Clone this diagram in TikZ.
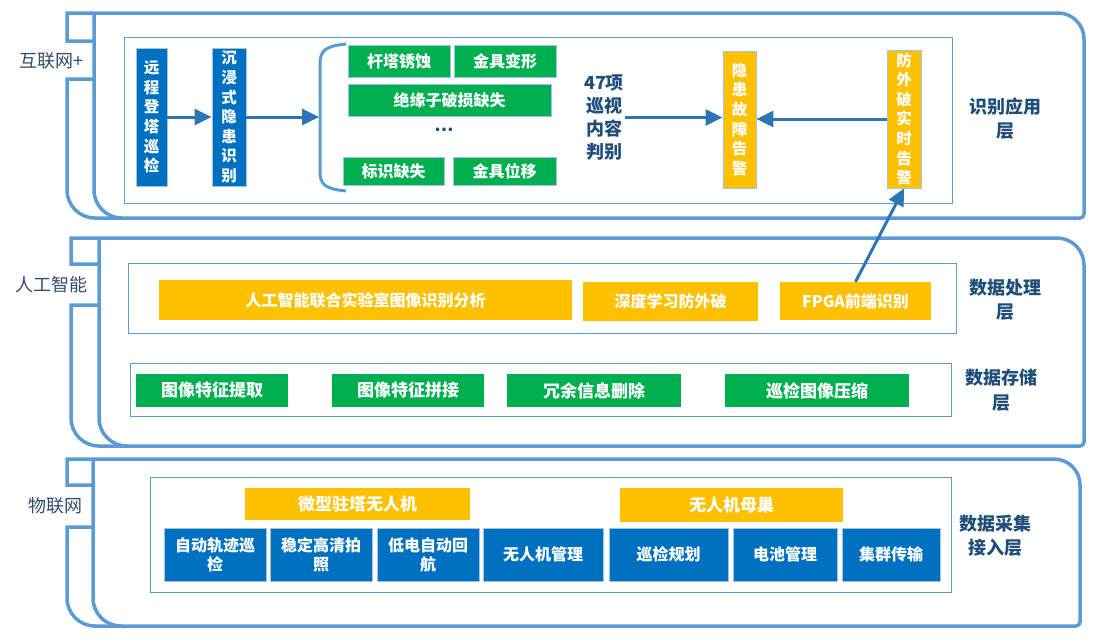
\documentclass[tikz,border=0pt]{standalone}
\usepackage{fontspec}
\setmainfont{Noto Sans CJK SC}
\usetikzlibrary{arrows.meta}
\definecolor{pline}{HTML}{5B9BD5}
\definecolor{bblue}{HTML}{0070C0}
\definecolor{bgreen}{HTML}{00B050}
\definecolor{byellow}{HTML}{FFC000}
\definecolor{arr}{HTML}{2E75B6}
\definecolor{lbl}{HTML}{1F4E79}
\definecolor{lbltwo}{HTML}{2F4B6E}
\definecolor{edgec}{HTML}{9DC3E6}
\newcommand\bx[7]{%
  \node[#6, minimum width={#4-#2}, minimum height={#5-#3}] (#1) at ({(#2+#4)/2},{(#3+#5)/2}) {#7};}
% x0, x1, ytop, ya, yb, ybot, x2, R
\newcommand\panelshape[8]{%
  \draw[panel] (#2,#4) -- (#1,#4) -- (#1,#3) -- ({#7-#8},#3)
    .. controls ({#7-0.448*#8},#3) and (#7,{#3+0.448*#8}) .. (#7,{#3+#8})
    -- (#7,{#6-4}) .. controls (#7,{#6-1.8}) and ({#7-1.8},#6) .. ({#7-4},#6)
    -- ({#1+28},#6) .. controls ({#1+12.5},#6) and (#1,{#6-12.5}) .. (#1,{#6-28})
    -- (#1,#5) -- (#2,#5);
  \draw[panel] (#2,#3) -- (#2,{#6-28}) .. controls (#2,{#6-12.5}) and ({#2+12.5},#6) .. ({#2+28},#6);}
\tikzset{
  panel/.style={draw=pline, line width=3.5pt},
  innerbox/.style={draw=pline, line width=1pt},
  box/.style={inner sep=0pt, text=white, font=\bfseries\fontsize{16}{19}\selectfont, align=center},
  bluebox/.style={box, fill=bblue, draw=edgec, line width=0.8pt},
  greenbox/.style={box, fill=bgreen, draw=edgec, line width=0.8pt},
  greenplain/.style={box, fill=bgreen, font=\bfseries\fontsize{17}{20}\selectfont},
  yellowbox/.style={box, fill=byellow, draw=edgec, line width=0.8pt},
  yellowplain/.style={box, fill=byellow},
  vert/.style={font=\bfseries\fontsize{15.5}{19.6}\selectfont},
  arrowline/.style={draw=arr, line width=3pt, -{Triangle[length=17pt,width=16pt]}},
  layerlabel/.style={text=lbl, font=\bfseries\fontsize{18}{24.5}\selectfont, align=center, inner sep=1pt},
  sidelabel/.style={text=lbltwo, font=\fontsize{18}{20}\selectfont, inner sep=0pt},
}
\begin{document}
\begin{tikzpicture}[x=1pt, y=-1pt]
\useasboundingbox (0,0) rectangle (1103,641);
% panels
\panelshape{67}{94}{13}{41}{79}{218}{1084}{26}
\panelshape{71}{99}{238}{264}{305}{446}{1084}{27}
\panelshape{67}{93}{459}{485}{527}{626}{1080}{26}
% inner frames
\draw[innerbox] (124,37) rectangle (952,203);
\draw[innerbox] (128,263) rectangle (956,333);
\draw[innerbox] (130,363) rectangle (951,416);
\draw[innerbox] (150,477) rectangle (951,592);
% side labels
\node[sidelabel] (s1) at (51.5,61) {互联网+};
\node[sidelabel] (s2) at (51.5,285) {人工智能};
\node[sidelabel] (s3) at (55.5,506) {物联网};
% layer labels
\node[layerlabel] (l1) at (1005,118.5) {识别应用\\层};
\node[layerlabel] (l2) at (1005,299.5) {数据处理\\层};
\node[layerlabel] (l3) at (1001,390) {数据存储\\层};
\node[layerlabel] (l4) at (995,535.5) {数据采集\\接入层};
% panel 1
\bx{yc}{136}{48}{167}{186}{bluebox,vert}{远\\程\\登\\塔\\巡\\检}
\bx{cj}{212}{48}{246}{186}{bluebox,vert}{沉\\浸\\式\\隐\\患\\识\\别}
\bx{gt}{348}{45}{450}{77}{greenbox}{杆塔锈蚀}
\bx{jb}{454}{45}{556}{77}{greenbox}{金具变形}
\bx{jy}{348}{84}{551}{116}{greenbox}{绝缘子破损缺失}
\node[text=lbl, font=\bfseries\fontsize{17}{17}\selectfont, inner sep=0pt] (dots) at (444,130) {…};
\bx{bs}{343}{157}{444}{185}{greenbox}{标识缺失}
\bx{jw}{453}{157}{556}{185}{greenbox}{金具位移}
\node[layerlabel, font=\bfseries\fontsize{18}{23}\selectfont] (t47) at (604,117.5) {47项\\巡视\\内容\\判别};
\bx{yh}{723}{51}{756}{188}{yellowbox,vert}{隐\\患\\故\\障\\告\\警}
\bx{fw}{887}{50}{921}{188}{yellowbox,vert}{防\\外\\破\\实\\时\\告\\警}
\draw[pline, line width=3pt] (346,44) .. controls (326,46) and (320,50) .. (320,64)
  -- (320,172) .. controls (320,185) and (326,189) .. (346,191);
\coordinate (brk) at (319,117);
% panel 2
\bx{ai}{159}{280}{572}{320}{yellowplain}{人工智能联合实验室图像识别分析}
\bx{sd}{583}{282}{758}{321}{yellowplain}{深度学习防外破}
\bx{fp}{780}{282}{931}{320}{yellowplain}{FPGA前端识别}
\bx{g1}{136}{374}{288}{407}{greenplain}{图像特征提取}
\bx{g2}{332}{374}{484}{407}{greenplain}{图像特征拼接}
\bx{g3}{507}{374}{681}{407}{greenplain}{冗余信息删除}
\bx{g4}{725}{374}{909}{407}{greenplain}{巡检图像压缩}
% panel 3
\bx{wx}{245}{488}{470}{520}{yellowplain,font=\bfseries\fontsize{17}{20}\selectfont}{微型驻塔无人机}
\bx{mc}{620}{488}{843}{522}{yellowplain,font=\bfseries\fontsize{17}{20}\selectfont}{无人机母巢}
\bx{b1}{164}{528}{266}{581}{bluebox}{自动轨迹巡\\检}
\bx{b2}{270}{528}{372}{581}{bluebox}{稳定高清拍\\照}
\bx{b3}{377}{528}{479}{581}{bluebox}{低电自动回\\航}
\bx{b4}{483}{528}{603}{581}{bluebox}{无人机管理}
\bx{b5}{609}{528}{728}{581}{bluebox}{巡检规划}
\bx{b6}{733}{528}{837}{581}{bluebox}{电池管理}
\bx{b7}{842}{528}{940}{581}{bluebox}{集群传输}
% arrows
\draw[arrowline] (yc.east) -- (cj.west);
\draw[arrowline] (cj.east) -- (brk);
\draw[arrowline] (t47.east) -- (t47.east -| yh.west);
\draw[arrowline] (fw.west) -- (fw.west -| yh.east);
\draw[arrowline] (fp.north) -- (fw.south);
\end{tikzpicture}
\end{document}
